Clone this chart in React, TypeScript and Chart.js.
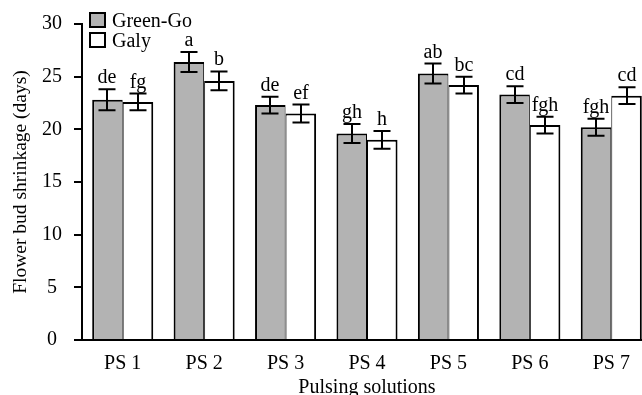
import React, { useEffect, useRef } from "react";
import { Chart, registerables } from "chart.js";

Chart.register(...registerables);

const categories = ["PS 1", "PS 2", "PS 3", "PS 4", "PS 5", "PS 6", "PS 7"];
const greenGo = [22.8, 26.4, 22.3, 19.6, 25.3, 23.3, 20.2];
const galy = [22.6, 24.6, 21.5, 19.0, 24.2, 20.4, 23.2];
const greenGoErr = [1.0, 0.95, 0.8, 0.9, 0.95, 0.8, 0.8];
const galyErr = [0.8, 0.9, 0.85, 0.85, 0.8, 0.8, 0.8];
const greenGoLetters = ["de", "a", "de", "gh", "ab", "cd", "fgh"];
const galyLetters = ["fg", "b", "ef", "h", "bc", "fgh", "cd"];
const yTicks = [0, 5, 10, 15, 20, 25, 30];

const FONT = "'Liberation Serif', 'Times New Roman', serif";
const GRAY = "#b3b3b3";

const errors = [greenGoErr, galyErr];
const letters = [greenGoLetters, galyLetters];
const seriesNames = ["Green-Go", "Galy"];
const seriesFill = [GRAY, "#ffffff"];

const overlayPlugin = {
  id: "overlay",
  afterDatasetsDraw(chart: any) {
    const ctx = chart.ctx;
    const yScale = chart.scales.y;
    ctx.save();
    ctx.strokeStyle = "#000";
    ctx.fillStyle = "#000";
    ctx.lineWidth = 2;
    ctx.font = `20px ${FONT}`;
    ctx.textAlign = "center";
    ctx.textBaseline = "alphabetic";
    chart.data.datasets.forEach((ds: any, di: number) => {
      const meta = chart.getDatasetMeta(di);
      meta.data.forEach((bar: any, i: number) => {
        const v = ds.data[i];
        const e = errors[di][i];
        const x = Math.round(bar.x);
        const yt = yScale.getPixelForValue(v + e);
        const yb = yScale.getPixelForValue(v - e);
        ctx.beginPath();
        ctx.moveTo(x, yt);
        ctx.lineTo(x, yb);
        ctx.moveTo(x - 8.5, yt);
        ctx.lineTo(x + 8.5, yt);
        ctx.moveTo(x - 8.5, yb);
        ctx.lineTo(x + 8.5, yb);
        ctx.stroke();
        ctx.fillText(letters[di][i], x, yt - 6);
      });
    });
    // legend
    const lx = chart.chartArea.left + 8;
    ctx.textAlign = "left";
    seriesNames.forEach((name, k) => {
      const by = 13 + k * 20;
      ctx.fillStyle = seriesFill[k];
      ctx.fillRect(lx, by, 15, 14);
      ctx.strokeStyle = "#000";
      ctx.lineWidth = 2;
      ctx.strokeRect(lx, by, 15, 14);
      ctx.fillStyle = "#000";
      ctx.fillText(name, lx + 22, by + 14);
    });
    ctx.restore();
  },
};

export default function App() {
  const ref = useRef<HTMLCanvasElement>(null);
  useEffect(() => {
    if (!ref.current) return;
    const chart = new Chart(ref.current, {
      type: "bar",
      data: {
        labels: categories,
        datasets: [
          {
            label: seriesNames[0],
            data: greenGo,
            backgroundColor: GRAY,
            borderColor: "#000",
            borderWidth: { top: 2, left: 2, right: 1, bottom: 0 } as any,
            categoryPercentage: 0.75,
            barPercentage: 1,
          },
          {
            label: seriesNames[1],
            data: galy,
            backgroundColor: "#ffffff",
            borderColor: "#000",
            borderWidth: { top: 2, left: 1, right: 2, bottom: 0 } as any,
            categoryPercentage: 0.75,
            barPercentage: 1,
          },
        ],
      },
      options: {
        responsive: false,
        devicePixelRatio: 1,
        animation: false,
        layout: { padding: { top: 22, right: 8, bottom: 0, left: 0 } },
        plugins: {
          legend: { display: false },
          tooltip: { enabled: false },
        },
        scales: {
          x: {
            type: "category",
            grid: { display: false, drawTicks: false },
            border: { display: true, color: "#000", width: 2 },
            ticks: { font: { family: FONT, size: 20 }, color: "#000", padding: 12 },
            title: {
              display: true,
              text: "Pulsing solutions",
              font: { family: FONT, size: 20 },
              color: "#000",
              padding: { top: 0, bottom: 0 },
            },
            afterFit: (s: any) => {
              s.height = 60;
            },
          },
          y: {
            min: 0,
            max: 30,
            afterBuildTicks: (s: any) => {
              s.ticks = yTicks.map((v) => ({ value: v }));
            },
            ticks: {
              font: { family: FONT, size: 20 },
              color: "#000",
              padding: 12,
              crossAlign: "center",
            },
            grid: {
              drawOnChartArea: false,
              drawTicks: true,
              tickLength: 8,
              color: "#000",
              lineWidth: 2,
            },
            border: { display: true, color: "#000", width: 2 },
            title: {
              display: true,
              text: "Flower bud shrinkage (days)",
              font: { family: FONT, size: 19.5 },
              color: "#000",
              padding: { top: 9, bottom: 0 },
            },
            afterFit: (s: any) => {
              s.width = 82;
            },
          },
        },
      } as any,
      plugins: [overlayPlugin],
    });
    return () => chart.destroy();
  }, []);
  return (
    <div
      style={{
        position: "fixed",
        left: 0,
        top: 0,
        width: 642,
        height: 395,
        overflow: "hidden",
        background: "#fff",
      }}
    >
      <canvas ref={ref} width={660} height={400} style={{ display: "block" }} />
    </div>
  );
}
